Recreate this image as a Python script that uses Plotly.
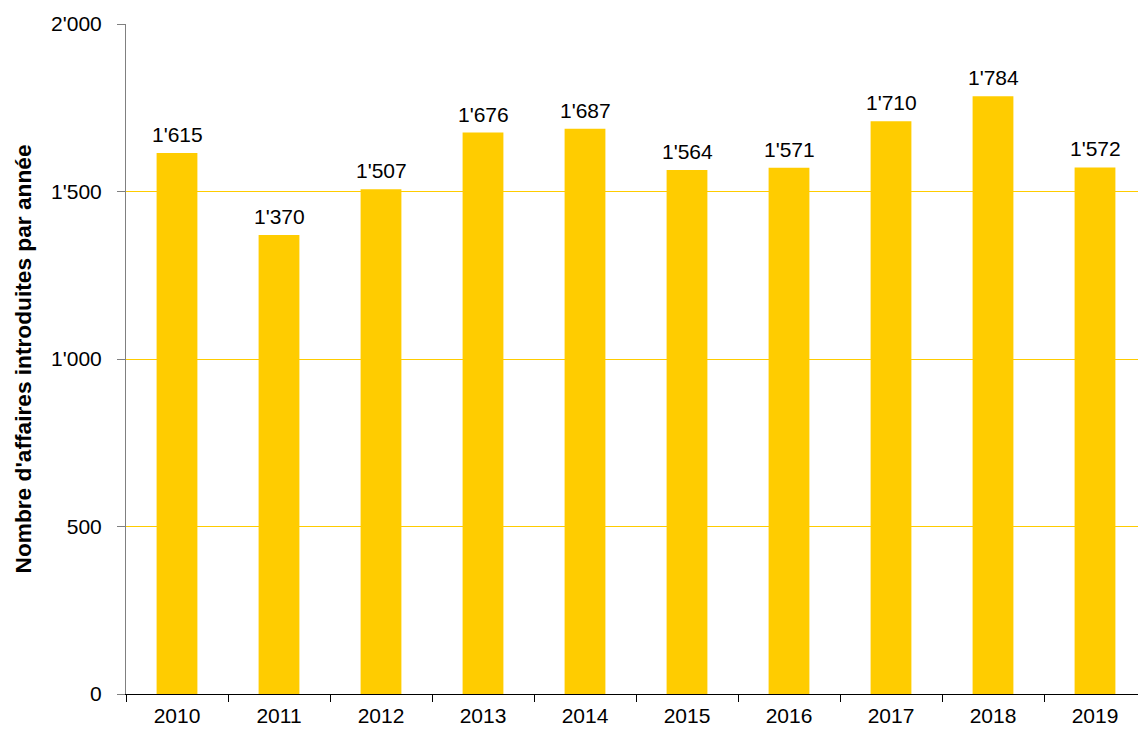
import plotly.graph_objects as go

years = ["2010", "2011", "2012", "2013", "2014", "2015", "2016", "2017", "2018", "2019"]
cases = [1615, 1370, 1507, 1676, 1687, 1564, 1571, 1710, 1784, 1572]
y_title = "Nombre d'affaires introduites par année"

FONT = "Liberation Sans, Arial, sans-serif"

fig = go.Figure()
fig.add_trace(go.Bar(
    x=years, y=cases, width=0.4,
    marker=dict(color="#FFCC00", line=dict(width=0)),
    hoverinfo="x+y",
))

for i, v in enumerate(cases):
    fig.add_annotation(
        x=i, y=v, xref="x", yref="y", text=f"{v:,}".replace(",", "'"),
        showarrow=False, yanchor="bottom", yshift=5,
        font=dict(family=FONT, size=21, color="#000000"),
    )

fig.update_layout(
    width=1138, height=723,
    margin=dict(l=118, r=0, t=16, b=37),
    paper_bgcolor="white", plot_bgcolor="white",
    separators=".'",
    showlegend=False,
    font=dict(family=FONT, size=21, color="#000000"),
)
fig.update_xaxes(
    type="category", range=[-0.5, 9.5], autorange=False,
    categoryorder="array", categoryarray=years,
    tickson="boundaries", ticks="outside", ticklen=7, tickcolor="#000000", tickwidth=1,
    showline=True, linecolor="#000000", linewidth=1,
    showgrid=False, ticklabelstandoff=3,
    tickfont=dict(family=FONT, size=21, color="#000000"),
)
fig.update_yaxes(
    range=[0, 2000], autorange=False, tickvals=[0, 500, 1000, 1500, 2000], tickformat=",",
    ticks="outside", ticklen=8, tickcolor="#808080", tickwidth=1,
    showline=True, linecolor="#808080", linewidth=1,
    showgrid=True, gridcolor="#FFCC00", gridwidth=1,
    zeroline=False, ticklabelstandoff=11,
    tickfont=dict(family=FONT, size=21, color="#000000"),
    title=dict(text=f"<b>{y_title}</b>", font=dict(family=FONT, size=22.7, color="#000000"), standoff=13),
)

fig.write_html("out.html")
